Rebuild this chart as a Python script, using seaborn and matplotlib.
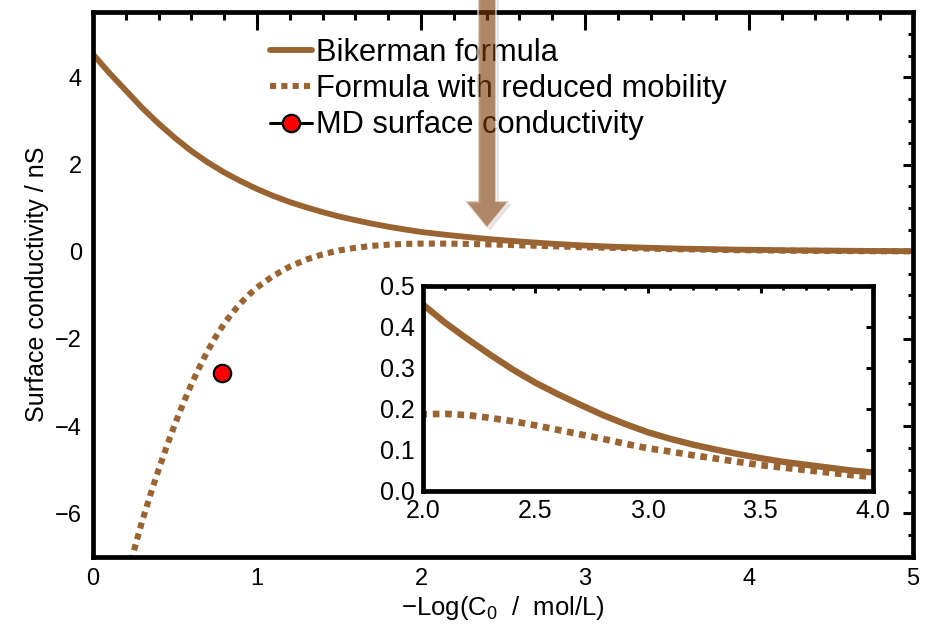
import matplotlib
matplotlib.use('Agg')
import matplotlib.pyplot as plt
import matplotlib.patheffects as pe
from matplotlib.patches import FancyArrow
from matplotlib.ticker import MultipleLocator, NullLocator
import pandas as pd
import seaborn as sns

# values
bik_x = [0.0, 0.1, 0.2, 0.3, 0.4, 0.5, 0.6, 0.7, 0.8, 0.9, 1.0, 1.1, 1.2, 1.3, 1.4,
         1.5, 1.6, 1.7, 1.8, 1.9, 2.0, 2.1, 2.2, 2.3, 2.4, 2.5, 2.6, 2.7, 2.8, 2.9,
         3.0, 3.1, 3.2, 3.3, 3.4, 3.5, 3.6, 3.7, 3.8, 3.9, 4.0, 4.25, 4.5, 4.75, 5.0]
bik_y = [4.53, 4.10, 3.70, 3.30, 2.94, 2.61, 2.31, 2.05, 1.82, 1.62, 1.44, 1.28,
         1.14, 1.02, 0.91, 0.81, 0.725, 0.645, 0.575, 0.512, 0.455, 0.41, 0.37,
         0.332, 0.296, 0.264, 0.236, 0.210, 0.185, 0.163, 0.143, 0.127, 0.113,
         0.101, 0.090, 0.080, 0.071, 0.064, 0.057, 0.050, 0.045, 0.034, 0.026,
         0.019, 0.014]

red_x = [0.2, 0.25, 0.3, 0.35, 0.4, 0.45, 0.5, 0.55, 0.6, 0.65, 0.7, 0.75, 0.8,
         0.85, 0.9, 0.95, 1.0, 1.1, 1.2, 1.3, 1.4, 1.5, 1.6, 1.7, 1.8, 1.9, 2.0,
         2.1, 2.2, 2.3, 2.4, 2.5, 2.6, 2.7, 2.8, 2.9, 3.0, 3.1, 3.2, 3.3, 3.4, 3.5,
         3.6, 3.7, 3.8, 3.9, 4.0, 4.25, 4.5, 4.75, 5.0]
red_y = [-7.60, -6.85, -6.18, -5.57, -5.00, -4.46, -3.95, -3.48, -3.04, -2.64,
         -2.27, -1.94, -1.65, -1.40, -1.18, -0.99, -0.82, -0.55, -0.34, -0.18,
         -0.06, 0.03, 0.09, 0.135, 0.163, 0.180, 0.187, 0.188, 0.185, 0.178, 0.170,
         0.160, 0.149, 0.138, 0.127, 0.115, 0.104, 0.096, 0.087, 0.079, 0.071,
         0.063, 0.057, 0.051, 0.045, 0.039, 0.034, 0.025, 0.018, 0.013, 0.009]

md_x = [0.785]
md_y = [-2.79]

labels = ['Bikerman formula', 'Formula with reduced mobility', 'MD surface conductivity']

bik = pd.DataFrame({'x': bik_x, 'y': bik_y})
red = pd.DataFrame({'x': red_x, 'y': red_y})
md = pd.DataFrame({'x': md_x, 'y': md_y})

brown = '#996432'
dots = (0, (1, 0.85))

sns.set_theme(style='white')
plt.rcParams['font.family'] = ['Liberation Sans', 'DejaVu Sans']
plt.rcParams['mathtext.fontset'] = 'custom'
plt.rcParams['mathtext.rm'] = 'Liberation Sans'
plt.rcParams['mathtext.it'] = 'Liberation Sans'
for k in ['text.color', 'axes.labelcolor', 'xtick.color', 'ytick.color', 'axes.edgecolor']:
    plt.rcParams[k] = 'black'

fig = plt.figure(figsize=(9.25, 6.27), dpi=100)
ax = fig.add_axes([0.1005, 0.1116, 0.8865, 0.8694])

sns.lineplot(data=red, x='x', y='y', ax=ax, color=brown, lw=4.4,
             linestyle=dots, label=labels[1], sort=False)
sns.lineplot(data=bik, x='x', y='y', ax=ax, color=brown, lw=4.2,
             label=labels[0], sort=False)
sns.lineplot(data=md, x='x', y='y', ax=ax, color='black', lw=2.2, marker='o',
             markersize=12.5, markerfacecolor='red', markeredgecolor='black',
             markeredgewidth=1.6, label=labels[2], zorder=5)

ax.set_xlim(0, 5)
ax.set_ylim(-7, 5.5)
ax.xaxis.set_major_locator(MultipleLocator(1))
ax.xaxis.set_minor_locator(MultipleLocator(0.2))
ax.yaxis.set_major_locator(MultipleLocator(2))
ax.yaxis.set_minor_locator(MultipleLocator(0.5))
for s in ax.spines.values():
    s.set_linewidth(3.4)
ax.tick_params(which='both', direction='in', top=True, right=True)
ax.tick_params(axis='x', which='major', length=13, width=2.2, labelsize=17, pad=8)
ax.tick_params(axis='x', which='minor', length=6, width=2.2)
ax.tick_params(axis='y', which='major', length=7.5, width=2.2, labelsize=17, pad=8)
ax.tick_params(axis='y', which='minor', length=3.5, width=2.2)
ax.set_xlabel('\u2212Log(C$_{0}$  /  mol/L)', fontsize=18.5, labelpad=3)
ax.set_ylabel('Surface conductivity / nS', fontsize=18, labelpad=4)

h, l = ax.get_legend_handles_labels()
order = [l.index(s) for s in labels]
ax.legend([h[i] for i in order], [l[i] for i in order], loc='upper left',
          bbox_to_anchor=(0.216, 0.953), frameon=False, fontsize=22.2,
          handlelength=1.35, handletextpad=0.15, labelspacing=0.21,
          borderpad=0, borderaxespad=0)

# inset
iax = fig.add_axes([0.457, 0.217, 0.487, 0.327])
sns.lineplot(data=red, x='x', y='y', ax=iax, color=brown, lw=4.8,
             linestyle=dots, sort=False)
sns.lineplot(data=bik, x='x', y='y', ax=iax, color=brown, lw=4.6, sort=False)
iax.set_xlim(2, 4)
iax.set_ylim(0, 0.5)
iax.xaxis.set_major_locator(MultipleLocator(0.5))
iax.xaxis.set_minor_locator(MultipleLocator(0.1))
iax.yaxis.set_major_locator(MultipleLocator(0.1))
iax.yaxis.set_minor_locator(NullLocator())
iax.set_xlabel('')
iax.set_ylabel('')
for s in iax.spines.values():
    s.set_linewidth(3.4)
iax.tick_params(which='both', direction='in', top=True, right=True,
                labelsize=18, pad=6)
iax.tick_params(which='major', length=5, width=2.2)
iax.tick_params(which='minor', length=3, width=2)

# arrow pointing down at the tail of the curves
arrow = FancyArrow(0.5265, 1.02, 0, -0.3836, width=18 / 925, head_width=44 / 925,
                   head_length=27 / 627, length_includes_head=True,
                   transform=fig.transFigure, facecolor='#873e0a', alpha=0.56,
                   edgecolor='white', lw=1.5, zorder=20,
                   path_effects=[pe.SimplePatchShadow(offset=(2, -2), alpha=0.12),
                                 pe.Normal()])
fig.add_artist(arrow)

fig.savefig('out.png', dpi=100)
